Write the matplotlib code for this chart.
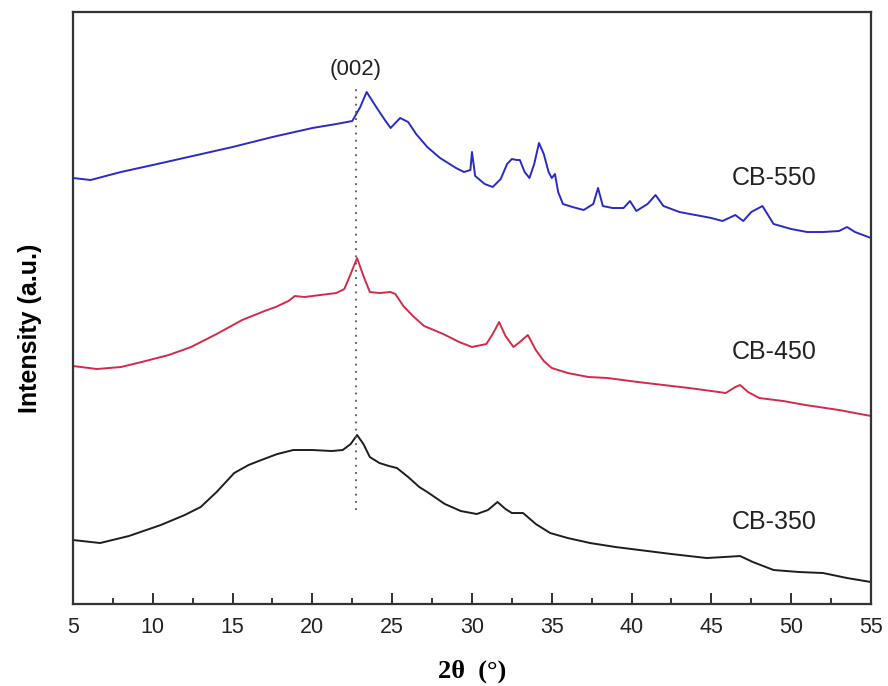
import matplotlib.pyplot as plt
from matplotlib.ticker import MultipleLocator

plt.rcParams['font.family'] = ['Liberation Sans', 'DejaVu Sans']

# 2theta (deg) and intensity (a.u., offset stacked)
x_550 = [5.0, 6.1, 8.0, 10.0, 12.5, 15.0, 17.5, 20.0, 21.5, 22.5, 23.0, 23.4,
         24.0, 24.5, 24.9, 25.5, 26.0, 26.5, 27.2, 28.0, 29.0, 29.5, 29.9, 30.0,
         30.2, 30.8, 31.3, 31.8, 32.2, 32.5, 32.8, 33.0, 33.3, 33.6, 33.9, 34.2,
         34.5, 34.8, 35.0, 35.2, 35.4, 35.7, 36.3, 37.0, 37.6, 37.9, 38.2, 38.8,
         39.5, 39.9, 40.3, 41.0, 41.5, 42.0, 43.0, 44.0, 45.0, 45.7, 46.5, 47.0,
         47.5, 48.2, 48.9, 50.0, 51.0, 52.0, 53.0, 53.5, 54.0, 55.0]
y_550 = [426, 424, 432, 439, 448, 457, 467, 476, 480, 483, 497, 512,
         497, 485, 476, 486, 482, 470, 457, 446, 436, 432, 434, 452,
         428, 420, 417, 425, 440, 445, 444, 444, 432, 426, 440, 461,
         450, 432, 426, 430, 412, 400, 397, 394, 400, 416, 398, 396,
         396, 403, 393, 400, 409, 398, 392, 389, 386, 383, 389, 383,
         392, 398, 380, 375, 372, 372, 373, 377, 372, 366]

x_450 = [5.0, 6.5, 8.0, 9.3, 11.0, 12.4, 14.0, 15.6, 17.0, 17.7, 18.5, 18.9,
         19.5, 20.5, 21.5, 22.0, 22.4, 22.8, 23.2, 23.6, 24.2, 24.9, 25.2, 25.7,
         26.3, 27.0, 28.2, 29.2, 30.0, 30.9, 31.3, 31.7, 32.1, 32.6, 33.0, 33.5,
         34.0, 34.5, 35.0, 36.0, 37.3, 38.5, 40.4, 42.0, 43.6, 45.0, 45.9, 46.5,
         46.8, 47.3, 48.0, 49.5, 50.9, 53.0, 55.0]
y_450 = [238, 235, 237, 242, 249, 257, 270, 284, 293, 297, 303, 308,
         307, 309, 311, 315, 330, 346, 328, 312, 311, 312, 310, 298,
         288, 278, 270, 262, 257, 260, 270, 282, 268, 257, 262, 269,
         254, 243, 236, 231, 227, 226, 222, 219, 216, 213, 211, 217,
         219, 212, 206, 203, 199, 194, 188]

x_350 = [5.0, 6.7, 8.5, 10.5, 12.0, 13.0, 14.0, 15.1, 16.0, 16.8, 17.8, 18.8,
         20.0, 21.2, 21.9, 22.4, 22.8, 23.2, 23.6, 24.2, 24.8, 25.3, 26.0, 26.7,
         27.2, 28.3, 29.3, 30.3, 31.0, 31.6, 32.1, 32.5, 33.2, 34.0, 34.9, 36.0,
         37.4, 39.0, 40.5, 42.5, 44.7, 45.8, 46.8, 47.6, 48.9, 50.5, 52.0, 53.5,
         55.0]
y_350 = [64, 61, 68, 79, 89, 97, 112, 131, 139, 144, 150, 154,
         154, 153, 154, 160, 169, 160, 147, 141, 138, 136, 127, 117,
         112, 100, 93, 90, 94, 102, 95, 91, 91, 80, 71, 66,
         61, 57, 54, 50, 46, 47, 48, 42, 34, 32, 31, 26,
         22]

samples = ['CB-550', 'CB-450', 'CB-350']
colors = ['#2a2ac8', '#d42a4a', '#1e1e1e']
label_y = [426, 252, 82]

peak_x = 22.73
peak_y = [94, 516]

fig = plt.figure(figsize=(8.88, 6.86), dpi=100)
ax = fig.add_axes([0.0822, 0.1195, 0.8986, 0.863])

ax.plot(x_550, y_550, color=colors[0], lw=1.4)
ax.plot(x_450, y_450, color=colors[1], lw=1.4)
ax.plot(x_350, y_350, color=colors[2], lw=1.4)

ax.plot([peak_x, peak_x], peak_y, color='#555555', lw=1.3, ls=(0, (1, 3)))
ax.text(peak_x, 535, '(002)', ha='center', va='center', fontsize=16, color='#222222')

for name, ly in zip(samples, label_y):
    ax.text(48.95, ly, name, ha='center', va='center', fontsize=18, color='#222222')

ax.set_xlim(5, 55)
ax.set_ylim(0, 592)
ax.xaxis.set_major_locator(MultipleLocator(5))
ax.xaxis.set_minor_locator(MultipleLocator(2.5))
ax.tick_params(axis='x', which='major', direction='in', length=8, width=1.3,
               labelsize=15.5, pad=9, colors='#222222')
ax.tick_params(axis='x', which='minor', direction='in', length=4, width=1.1)
ax.set_yticks([])
for s in ax.spines.values():
    s.set_linewidth(1.6)
    s.set_color('#333333')

ax.set_ylabel('Intensity (a.u.)', fontsize=18, fontweight='bold')
ax.yaxis.set_label_coords(-0.039, 0.466)
ax.set_xlabel('2θ  (°)', fontsize=19, fontweight='bold',
              family='Liberation Serif', labelpad=16)

fig.savefig('out.png', dpi=100)
